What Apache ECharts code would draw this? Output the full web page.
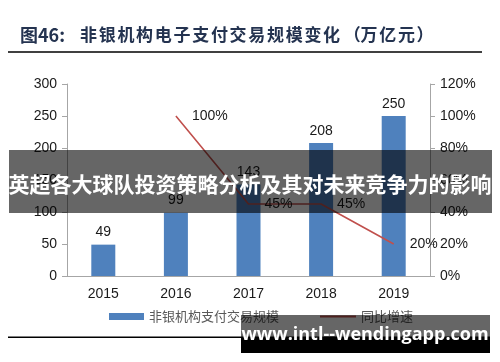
<!DOCTYPE html>
<html><head><meta charset="utf-8">
<script src="https://cdn.jsdelivr.net/npm/echarts@6/dist/echarts.min.js"></script>
<style>html,body{margin:0;padding:0;background:#fff}#c{width:500px;height:362px}</style>
</head><body><div id="c"></div>
<script>
const years = ['2015', '2016', '2017', '2018', '2019'];
const scaleValues = [49, 99, 143, 208, 250];
const growthValues = [null, 100, 45, 45, 20];
const leftTicks = [0, 300, 50];
const rightTicks = [0, 120, 20];
const barName = '非银机构支付交易规模';
const lineName = '同比增速';
const titlePrefix = '图46:';
const titleText = '非银机构电子支付交易规模变化（万亿元）';

const chart = echarts.init(document.getElementById('c'));
const axisFont = {fontFamily: 'Liberation Sans, Arial, sans-serif', fontSize: 14, color: '#1a1a1a'};
const titleStyle = {fontFamily: 'Noto Sans CJK SC', fontWeight: 'bold', fontSize: 17, fill: '#243350', textVerticalAlign: 'middle'};
const titleChars = Array.from(titleText).map((ch, i) => ({
  type: 'text', z: 50, x: 80 + i * 18.7 + (ch === '（' ? 2 : 0), y: 35,
  style: Object.assign({text: ch}, titleStyle)
}));
chart.setOption({
  animation: false,
  grid: {left: 67, right: 70, top: 84, bottom: 86},
  legend: [
    {left: 104, top: 305, itemWidth: 35, itemHeight: 7, icon: 'rect', data: [barName],
     textStyle: {fontFamily: 'Noto Sans CJK SC', fontSize: 13, color: '#595959'}},
    {left: 314, top: 305, itemWidth: 36, itemHeight: 7, data: [lineName],
     textStyle: {fontFamily: 'Noto Sans CJK SC', fontSize: 13, color: '#595959'}}
  ],
  xAxis: {type: 'category', data: years,
    axisLine: {lineStyle: {color: '#a6a6a6'}}, axisTick: {show: false},
    axisLabel: Object.assign({margin: 11}, axisFont)},
  yAxis: [
    {type: 'value', min: leftTicks[0], max: leftTicks[1], interval: leftTicks[2],
     splitLine: {show: false}, axisLine: {show: true, lineStyle: {color: '#a6a6a6'}},
     axisTick: {show: true, length: 5, lineStyle: {color: '#a6a6a6'}},
     axisLabel: Object.assign({margin: 10}, axisFont)},
    {type: 'value', min: rightTicks[0], max: rightTicks[1], interval: rightTicks[2], position: 'right',
     splitLine: {show: false}, axisLine: {show: true, lineStyle: {color: '#a6a6a6'}},
     axisTick: {show: true, length: 5, lineStyle: {color: '#a6a6a6'}},
     axisLabel: Object.assign({margin: 10, formatter: '{value}%'}, axisFont)}
  ],
  series: [
    {name: barName, type: 'bar', data: scaleValues, barWidth: 24, yAxisIndex: 0,
     itemStyle: {color: '#4f81bd'},
     label: {show: true, position: 'top', distance: 5, fontFamily: 'Liberation Sans, Arial, sans-serif', fontSize: 14, color: '#1a1a1a'}},
    {name: lineName, type: 'line', data: growthValues, yAxisIndex: 1, symbol: 'circle', symbolSize: 2, showSymbol: true, connectNulls: false,
     lineStyle: {color: '#c0504d', width: 1.6}, itemStyle: {color: 'rgba(192,80,77,0)'},
     label: {show: true, position: 'right', distance: 15, formatter: '{c}%', fontFamily: 'Liberation Sans, Arial, sans-serif', fontSize: 14, color: '#1a1a1a'}}
  ],
  graphic: [
    {type: 'text', x: 20, y: 35, z: 50, style: Object.assign({text: titlePrefix}, titleStyle, {fontSize: 18})},
    ...titleChars,
    {type: 'rect', z: 50, shape: {x: 8, y: 51, width: 474, height: 2}, style: {fill: '#404040'}},
    {type: 'rect', z: 50, shape: {x: 8, y: 336.5, width: 482, height: 1.5}, style: {fill: '#000'}},
    {type: 'rect', z: 100, shape: {x: 9, y: 150, width: 483, height: 63}, style: {fill: 'rgba(0,0,0,0.6)'}},
    {type: 'text', z: 101, x: 250, y: 184, style: {text: '英超各大球队投资策略分析及其对未来竞争力的影响', fontFamily: 'Noto Sans CJK SC', fontWeight: 'bold', fontSize: 21, fill: '#fff', textAlign: 'center', textVerticalAlign: 'middle'}},
    {type: 'rect', z: 100, shape: {x: 241, y: 315, width: 249, height: 23}, style: {fill: 'rgba(0,0,0,0.6)'}},
    {type: 'rect', z: 100, shape: {x: 241, y: 338, width: 249, height: 15}, style: {fill: '#000'}},
    {type: 'text', z: 101, x: 365, y: 335, style: {text: 'www.intl--wendingapp.com', fontFamily: 'Open Sans', fontWeight: 'bold', fontSize: 18, fill: '#fff', textAlign: 'center', textVerticalAlign: 'middle'}}
  ]
});
</script></body></html>
